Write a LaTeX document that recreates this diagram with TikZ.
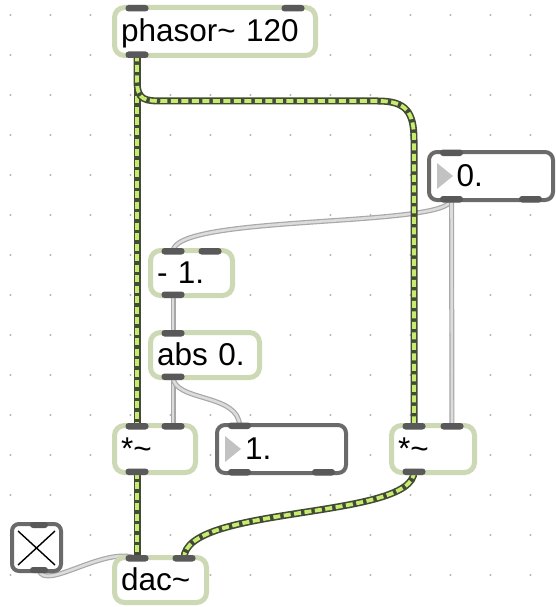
\documentclass[tikz,border=0pt]{standalone}
\usepackage{fontspec}
\newfontfamily\mxfont{Liberation Sans}
\usetikzlibrary{calc}
\pgfdeclarelayer{bg}
\pgfsetlayers{bg,main}
\definecolor{objc}{HTML}{CDD8B4}
\definecolor{numc}{HTML}{6A6A6A}
\definecolor{tabc}{HTML}{595959}
\definecolor{sigdark}{HTML}{434A36}
\definecolor{siglight}{HTML}{C6EC70}
\definecolor{cordout}{HTML}{A8A8A8}
\definecolor{cordin}{HTML}{DCDCDC}
\definecolor{dotc}{HTML}{B5B5B5}
\definecolor{tric}{HTML}{C2C2C2}
\newcommand\tabTL[1]{\fill[tabc,rounded corners=3pt] ($(#1.north west)+(11,-2.5)$) rectangle ++(23,6.5);}
\newcommand\tabTR[1]{\fill[tabc,rounded corners=3pt] ($(#1.north east)+(-34,-2.5)$) rectangle ++(23,6.5);}
\newcommand\tabBL[1]{\fill[tabc,rounded corners=3pt] ($(#1.south west)+(11,2.5)$) rectangle ++(23,-6.5);}
\newcommand\tabBR[1]{\fill[tabc,rounded corners=3pt] ($(#1.south east)+(-34,2.5)$) rectangle ++(23,-6.5);}
\newcommand\numtri[1]{\fill[tric] ($(#1.north west)+(8,11)$) -- ($(#1.north west)+(8,37)$) -- ($(#1.north west)+(24,24)$) -- cycle;}
\begin{document}
\begin{tikzpicture}[x=1pt,y=-1pt,
  objbox/.style={draw=objc, line width=5pt, rounded corners=10pt, fill=white,
    inner xsep=6.5pt, inner ysep=0pt, outer sep=0pt, anchor=north west, align=left,
    font=\mxfont\fontsize{31.5}{36}\selectfont, text height=23pt, text depth=3pt},
  numbox/.style={draw=numc, line width=4pt, rounded corners=8pt, fill=white,
    inner xsep=27.7pt, inner ysep=0pt, outer sep=0pt, anchor=north west, align=left,
    font=\mxfont\fontsize{31.5}{36}\selectfont, text height=23pt, text depth=3pt},
  sig/.style={line width=7pt, draw=sigdark,
    postaction={draw=siglight, line width=3.8pt, dash pattern=on 7pt off 3.5pt}},
  cord/.style={line width=5pt, draw=cordout,
    postaction={draw=cordin, line width=2.6pt}}]
\useasboundingbox (0,0) rectangle (556,607);

% objects
\node[objbox, minimum height=48pt, text width=188pt] (phasor) at (114.5,7.5) {phasor\textasciitilde{} 120};
\node[numbox, minimum height=48pt, text width=68.6pt] (num0) at (429,152) {0.};
\node[objbox, minimum height=45pt, text width=69pt] (minus) at (150.5,250.5) {- 1.};
\node[objbox, minimum height=45pt, text width=96pt] (abs) at (150.5,332.5) {abs 0.};
\node[objbox, minimum height=47pt, text width=68pt] (mulL) at (114.5,425.5) {*\textasciitilde};
\node[numbox, minimum height=48pt, text width=73pt, inner xsep=28pt] (num1) at (217,425) {1.};
\node[objbox, minimum height=47pt, text width=70pt] (mulR) at (391.5,425.5) {*\textasciitilde};
\node[objbox, minimum height=45pt, text width=79pt] (dac) at (114.5,557.5) {dac\textasciitilde};
\node[draw=numc, line width=4pt, rounded corners=7pt, fill=white, outer sep=0pt,
  inner sep=0pt, minimum width=49pt, minimum height=47pt, anchor=north west] (togg) at (12,524) {};

% toggle X
\draw[black, line width=1.4pt] ($(togg.north west)+(6,7)$) -- ($(togg.north west)+(43,41)$)
  ($(togg.north west)+(43,7)$) -- ($(togg.north west)+(6,41)$);
\fill[tabc,rounded corners=3pt] ($(togg.north west)+(18,-2)$) rectangle ++(18,6);
\fill[tabc,rounded corners=3pt] ($(togg.south west)+(18,2)$) rectangle ++(18,-6);

% number box triangles
\numtri{num0}
\numtri{num1}

% inlets / outlets
\tabTL{phasor}\tabTR{phasor}\tabBL{phasor}
\tabTL{num0}\tabBL{num0}\tabBR{num0}
\tabTL{minus}\tabTR{minus}\tabBL{minus}
\tabTL{abs}\tabBL{abs}
\tabTL{mulL}\tabTR{mulL}\tabBL{mulL}
\tabTL{num1}\tabBL{num1}\tabBR{num1}
\tabTL{mulR}\tabTR{mulR}\tabBL{mulR}
\tabTL{dac}\tabTR{dac}

% port coordinates
\coordinate (phO) at ($(phasor.south west)+(22.5,-1)$);
\coordinate (n0O) at ($(num0.south west)+(22.5,-1)$);
\coordinate (miI) at ($(minus.north west)+(22.5,1)$);
\coordinate (miO) at ($(minus.south west)+(22.5,-1)$);
\coordinate (abI) at ($(abs.north west)+(22.5,1)$);
\coordinate (abO) at ($(abs.south west)+(22.5,-1)$);
\coordinate (mLiL) at ($(mulL.north west)+(22.5,1)$);
\coordinate (mLiR) at ($(mulL.north east)+(-22.5,1)$);
\coordinate (mLO) at ($(mulL.south west)+(22.5,-1)$);
\coordinate (n1I) at ($(num1.north west)+(22.5,1)$);
\coordinate (mRiL) at ($(mulR.north west)+(22.5,1)$);
\coordinate (mRiR) at ($(mulR.north east)+(-22.5,1)$);
\coordinate (mRO) at ($(mulR.south west)+(22.5,-1)$);
\coordinate (dIL) at ($(dac.north west)+(22.5,1)$);
\coordinate (dIR) at ($(dac.north east)+(-22.5,1)$);
\coordinate (tO) at ($(togg.south west)+(27,-1)$);

\begin{pgfonlayer}{bg}
  \fill[white] (0,0) rectangle (556,607);
  \foreach \i in {0,...,13} \foreach \j in {0,...,14}
    \fill[dotc] (10.5+40*\i,15+40*\j) circle (1.1);
  % control cords
  \draw[cord] (n0O) .. controls (451.5,228) and (173,214) .. (miI);
  \draw[cord] (n0O) -- (mRiR);
  \draw[cord] (miO) -- (abI);
  \draw[cord] (abO) -- (mLiR);
  \draw[cord] (abO) .. controls (173,402) and (239.5,393) .. (n1I);
  \draw[cord] (tO) .. controls (45,592) and (105,545) .. (dIL);
  % signal cords
  \draw[sig] (phO) -- (mLiL);
  \draw[sig] (phO) -- (137,80) .. controls (137,101) and (145,101) .. (165,101)
    -- (378,101) .. controls (406,101) and (414,112) .. (414,140) -- (mRiL);
  \draw[sig] (mLO) -- (dIL);
  \draw[sig] (mRO) .. controls (414,520) and (184,505) .. (dIR);
\end{pgfonlayer}
\end{tikzpicture}
\end{document}
